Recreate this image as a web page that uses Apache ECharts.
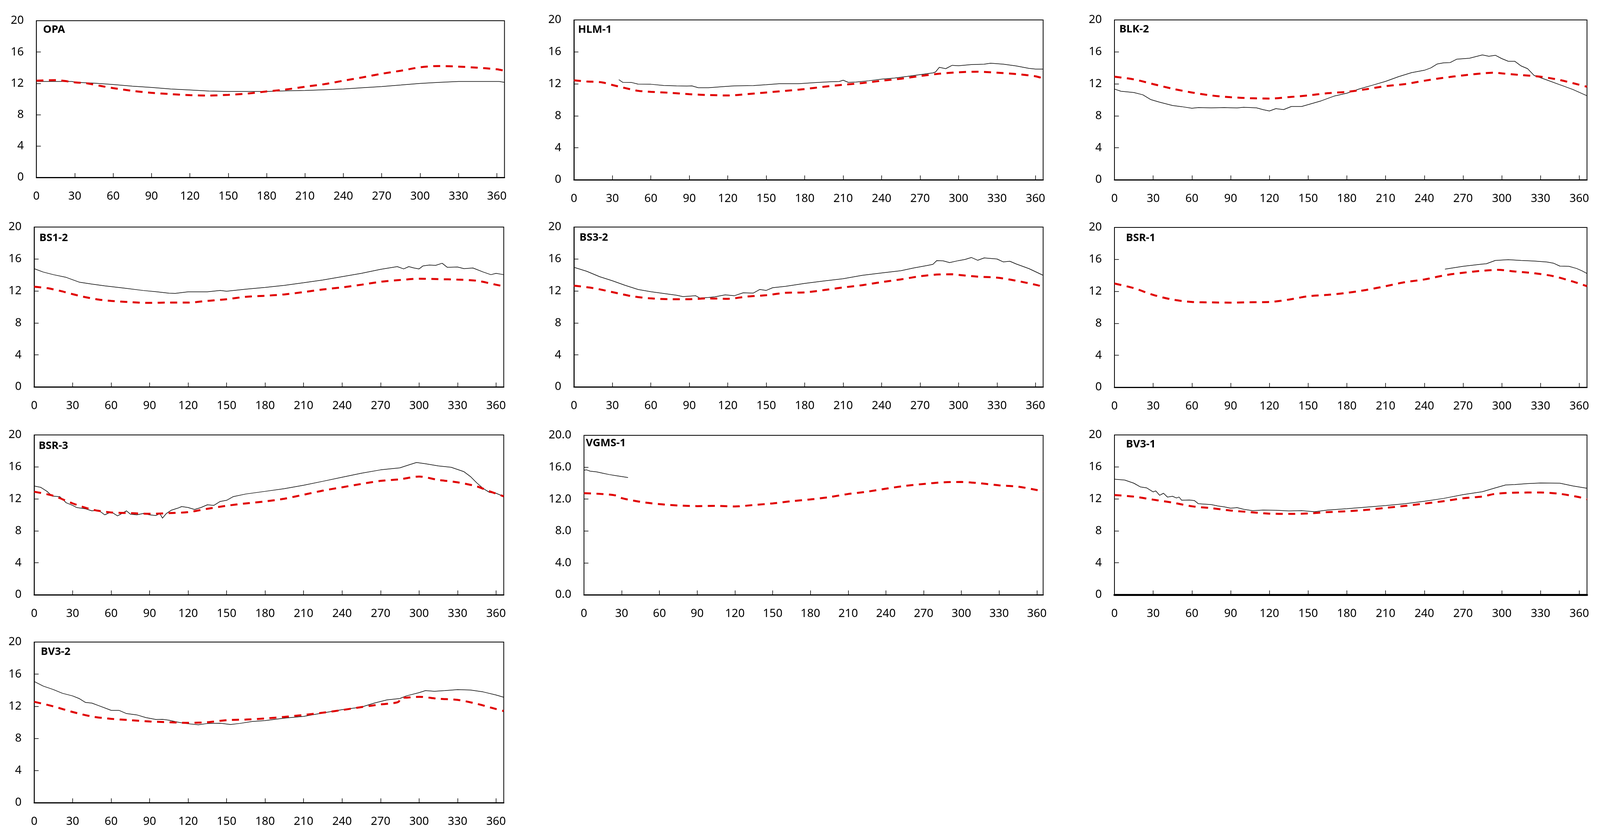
<!DOCTYPE html>
<html><head><meta charset="utf-8">
<script src="https://cdn.jsdelivr.net/npm/echarts@6/dist/echarts.min.js"></script>
<style>html,body{margin:0;padding:0;background:#fff;overflow:hidden}#c{width:100vw;height:100vh}</style>
</head><body><div id="c"></div><script>
// ---- tick labels ----
const xTicks = [0,30,60,90,120,150,180,210,240,270,300,330,360];
const yTicks = [0,4,8,12,16,20];
const panelNames = ['OPA','HLM-1','BLK-2','BS1-2','BS3-2','BSR-1','BSR-3','VGMS-1','BV3-1','BV3-2'];

// ---- observed (black) series: [day, value] ----
const opaObs = [[0,12.24],[28,12.24],[30,12.15],[45,12.03],[60,11.86],[75,11.65],[90,11.48],[105,11.28],[120,11.16],[135,11.02],[150,10.97],[180,10.97],[195,11.05],[210,11.1],[225,11.19],[240,11.28],[255,11.45],[270,11.6],[285,11.79],[300,12.0],[315,12.13],[330,12.24],[362,12.24],[366,12.13]];
const hlmObs = [[35,12.53],[38,12.19],[45,12.17],[50,11.97],[60,11.95],[70,11.8],[80,11.75],[88,11.72],[92,11.75],[97,11.52],[105,11.52],[115,11.64],[125,11.75],[140,11.79],[150,11.89],[160,12.02],[175,12.02],[190,12.17],[200,12.26],[207,12.3],[210,12.46],[214,12.19],[220,12.22],[230,12.39],[240,12.59],[250,12.73],[260,12.93],[270,13.15],[280,13.37],[282,13.47],[285,14.07],[290,13.9],[295,14.32],[300,14.27],[310,14.41],[320,14.46],[325,14.58],[335,14.46],[345,14.24],[355,13.94],[360,13.85],[366,13.85]];
const blkObs = [[0,11.35],[5,11.08],[15,10.92],[22,10.63],[28,10.04],[35,9.71],[45,9.29],[52,9.15],[60,8.95],[65,9.04],[75,9.0],[85,9.04],[95,8.98],[100,9.07],[110,9.0],[115,8.78],[120,8.61],[125,8.9],[131,8.78],[137,9.17],[145,9.17],[150,9.4],[160,9.87],[170,10.46],[180,10.83],[190,11.38],[200,11.84],[210,12.31],[220,12.9],[230,13.4],[240,13.7],[245,13.99],[250,14.49],[255,14.63],[260,14.66],[265,15.08],[275,15.21],[285,15.62],[290,15.45],[295,15.58],[300,15.16],[305,14.83],[310,14.83],[315,14.24],[320,13.9],[325,13.06],[335,12.48],[345,11.89],[355,11.3],[366,10.51]];
const bs1Obs = [[0,14.79],[7,14.37],[15,14.04],[25,13.7],[35,13.11],[45,12.86],[55,12.64],[70,12.36],[85,12.06],[95,11.91],[105,11.72],[110,11.7],[120,11.89],[135,11.89],[145,12.07],[150,11.97],[165,12.22],[180,12.45],[195,12.7],[210,13.03],[225,13.37],[240,13.79],[255,14.21],[270,14.71],[283,15.05],[288,14.76],[292,15.05],[296,14.88],[300,14.76],[303,15.13],[308,15.25],[313,15.21],[318,15.47],[322,14.96],[330,15.0],[335,14.79],[342,14.88],[350,14.37],[356,14.04],[360,14.21],[366,14.04]];
const bs3Obs = [[0,14.96],[10,14.46],[20,13.79],[30,13.28],[40,12.7],[50,12.19],[60,11.91],[70,11.69],[80,11.47],[85,11.3],[95,11.4],[98,11.13],[105,11.18],[110,11.27],[118,11.52],[125,11.4],[132,11.77],[140,11.74],[145,12.19],[150,12.07],[155,12.41],[165,12.58],[180,12.95],[195,13.25],[210,13.53],[225,13.96],[240,14.26],[255,14.54],[265,14.88],[275,15.17],[280,15.33],[283,15.8],[288,15.77],[293,15.55],[300,15.8],[305,15.94],[310,16.19],[315,15.84],[320,16.14],[330,16.0],[335,15.63],[340,15.72],[345,15.38],[355,14.79],[366,13.96]];
const bsr1Obs = [[256,14.78],[270,15.13],[285,15.42],[288,15.45],[295,15.87],[305,15.97],[315,15.87],[325,15.8],[335,15.67],[340,15.53],[345,15.16],[352,15.13],[358,14.86],[362,14.58],[366,14.24]];
const bsr3Obs = [[0,13.61],[5,13.45],[10,12.94],[14,12.35],[20,12.27],[25,11.51],[30,11.18],[33,10.92],[40,10.76],[45,10.5],[50,10.59],[55,10.0],[60,10.37],[65,9.87],[72,10.5],[75,10.08],[80,10.0],[85,10.17],[90,10.0],[95,9.92],[98,10.17],[100,9.58],[103,10.17],[107,10.59],[112,10.84],[115,11.04],[120,10.92],[125,10.67],[130,10.92],[135,11.26],[140,11.18],[145,11.68],[150,11.82],[155,12.27],[165,12.61],[180,12.94],[195,13.28],[210,13.7],[225,14.2],[240,14.71],[255,15.21],[270,15.63],[285,15.88],[292,16.25],[298,16.55],[305,16.39],[315,16.13],[325,15.95],[335,15.4],[340,14.8],[345,14.0],[350,13.3],[355,12.8],[360,12.7],[366,12.3]];
const vgmsObs = [[0,15.62],[2,15.67],[5,15.5],[10,15.42],[15,15.25],[20,15.08],[25,14.95],[30,14.83],[35,14.71]];
const bv31Obs = [[0,14.46],[8,14.35],[15,13.96],[20,13.5],[25,13.37],[30,12.87],[32,13.0],[35,12.45],[38,12.7],[41,12.23],[45,12.32],[48,12.11],[50,12.23],[52,11.83],[58,11.86],[62,11.78],[65,11.39],[75,11.28],[80,11.11],[85,11.0],[90,10.83],[95,10.9],[100,10.7],[107,10.53],[115,10.6],[125,10.57],[135,10.49],[145,10.53],[155,10.39],[165,10.6],[180,10.77],[195,10.97],[210,11.16],[225,11.39],[240,11.7],[255,12.06],[270,12.53],[285,12.9],[295,13.37],[303,13.74],[310,13.79],[320,13.91],[330,13.99],[345,13.96],[355,13.62],[366,13.32]];
const bv32Obs = [[0,15.09],[7,14.52],[15,14.08],[22,13.62],[30,13.29],[35,12.97],[40,12.48],[45,12.4],[50,12.1],[60,11.5],[66,11.5],[72,11.09],[80,10.93],[87,10.6],[95,10.35],[100,10.38],[105,10.27],[112,10.02],[118,9.86],[128,9.7],[135,9.86],[145,9.89],[153,9.73],[160,9.86],[170,10.11],[180,10.22],[195,10.52],[210,10.74],[225,11.17],[240,11.58],[255,11.9],[265,12.4],[275,12.8],[285,12.97],[290,13.29],[300,13.7],[305,13.95],[312,13.87],[320,13.95],[330,14.08],[340,14.03],[350,13.79],[360,13.41],[366,13.13]];

// ---- model (red dashed) series: [day, value] ----
const opaMod = [[0,12.34],[15,12.42],[30,12.13],[40,12.0],[50,11.68],[60,11.4],[75,11.05],[90,10.8],[105,10.63],[120,10.5],[135,10.45],[150,10.54],[165,10.7],[180,10.97],[195,11.22],[210,11.57],[225,11.9],[240,12.34],[255,12.77],[270,13.23],[285,13.62],[300,14.05],[315,14.22],[330,14.14],[345,14.0],[360,13.8],[366,13.62]];
const hlmMod = [[0,12.44],[10,12.3],[20,12.22],[25,12.08],[30,11.86],[40,11.47],[50,11.13],[60,11.0],[75,10.88],[90,10.71],[105,10.6],[120,10.55],[135,10.71],[150,10.92],[165,11.13],[180,11.35],[195,11.64],[210,11.89],[225,12.1],[240,12.39],[255,12.64],[270,12.98],[285,13.27],[300,13.45],[315,13.52],[330,13.4],[345,13.23],[360,12.95],[366,12.68]];
const blkMod = [[0,12.9],[15,12.56],[30,11.97],[45,11.39],[60,10.92],[75,10.55],[90,10.33],[105,10.21],[120,10.16],[135,10.34],[150,10.55],[165,10.83],[180,11.0],[195,11.33],[210,11.72],[225,11.97],[240,12.39],[255,12.76],[270,13.06],[285,13.31],[295,13.4],[300,13.31],[315,13.1],[330,12.9],[345,12.48],[360,11.89],[366,11.64]];
const bs1Mod = [[0,12.53],[10,12.36],[20,12.02],[30,11.6],[40,11.22],[50,10.93],[60,10.76],[75,10.6],[90,10.51],[105,10.55],[120,10.55],[135,10.76],[150,10.97],[165,11.27],[180,11.4],[195,11.57],[210,11.86],[225,12.19],[240,12.45],[255,12.78],[270,13.15],[285,13.37],[300,13.53],[315,13.48],[330,13.42],[345,13.28],[360,12.78],[366,12.58]];
const bs3Mod = [[0,12.66],[15,12.36],[30,11.86],[45,11.35],[60,11.07],[75,10.97],[90,10.97],[105,11.07],[120,11.02],[135,11.3],[150,11.47],[165,11.77],[180,11.82],[195,12.11],[210,12.44],[225,12.73],[240,13.11],[255,13.45],[270,13.84],[285,14.07],[295,14.09],[300,14.01],[315,13.79],[330,13.67],[345,13.28],[360,12.78],[366,12.53]];
const bsr1Mod = [[0,12.98],[15,12.4],[30,11.56],[45,10.97],[60,10.67],[75,10.62],[90,10.59],[105,10.64],[120,10.67],[135,10.97],[150,11.39],[165,11.56],[180,11.81],[195,12.18],[210,12.65],[225,13.15],[240,13.49],[255,13.99],[270,14.33],[285,14.58],[297,14.69],[310,14.49],[325,14.27],[340,13.9],[355,13.23],[366,12.65]];
const bsr3Mod = [[0,12.89],[15,12.39],[30,11.43],[45,10.67],[60,10.3],[75,10.22],[90,10.13],[105,10.22],[120,10.34],[135,10.76],[150,11.14],[165,11.43],[180,11.68],[195,12.02],[210,12.52],[225,13.03],[240,13.45],[255,13.87],[270,14.25],[285,14.45],[300,14.79],[315,14.37],[330,14.07],[345,13.56],[355,12.94],[366,12.32]];
const vgmsMod = [[0,12.75],[15,12.63],[25,12.46],[30,12.13],[40,11.79],[50,11.54],[60,11.37],[75,11.2],[90,11.12],[105,11.15],[120,11.08],[135,11.26],[150,11.46],[165,11.74],[180,11.96],[195,12.25],[210,12.64],[225,12.93],[240,13.31],[255,13.65],[270,13.9],[285,14.1],[300,14.15],[315,13.98],[330,13.73],[345,13.56],[360,13.14],[365,12.93]];
const bv31Mod = [[0,12.48],[15,12.28],[30,11.9],[45,11.53],[60,11.07],[75,10.84],[90,10.54],[105,10.34],[120,10.15],[135,10.12],[150,10.17],[165,10.34],[180,10.45],[195,10.62],[210,10.87],[225,11.12],[240,11.41],[255,11.71],[270,12.08],[285,12.3],[295,12.63],[310,12.77],[330,12.8],[345,12.63],[360,12.21],[366,11.95]];
const bv32Mod = [[0,12.56],[15,11.99],[30,11.29],[45,10.73],[60,10.44],[75,10.27],[90,10.11],[105,10.02],[120,9.94],[135,10.02],[150,10.27],[165,10.35],[180,10.48],[195,10.68],[210,10.92],[225,11.2],[240,11.53],[255,11.9],[270,12.23],[280,12.4],[284,12.56],[286,13.05],[290,13.08],[300,13.18],[315,12.94],[330,12.8],[345,12.31],[360,11.66],[366,11.41]];

const obsSets = [opaObs,hlmObs,blkObs,bs1Obs,bs3Obs,bsr1Obs,bsr3Obs,vgmsObs,bv31Obs,bv32Obs];
const modSets = [opaMod,hlmMod,blkMod,bs1Mod,bs3Mod,bsr1Mod,bsr3Mod,vgmsMod,bv31Mod,bv32Mod];
const xMaxes = [366,366,366,366,366,366,366,365,366,366];

// ---- layout (pixels, in a 4307 x 2147 design space, scaled to the viewport) ----
const layout = [
  {l:98,  t:53,   w:1260, h:401, tl:116,  tt:70},
  {l:1545,t:51,   w:1263, h:409, tl:1556, tt:70},
  {l:3000,t:51,   w:1272, h:409, tl:3013, tt:69},
  {l:92,  t:581,  w:1264, h:409, tl:106,  tt:603},
  {l:1545,t:581,  w:1263, h:409, tl:1560, tt:602},
  {l:3000,t:582,  w:1272, h:409, tl:3031, tt:603},
  {l:92,  t:1113, w:1264, h:409, tl:104,  tt:1135},
  {l:1572,t:1114, w:1236, h:408, tl:1577, tt:1128},
  {l:3000,t:1113, w:1272, h:409, tl:3031, tt:1131},
  {l:92,  t:1643, w:1264, h:411, tl:110,  tt:1662}
];

const el = document.getElementById('c');
const W = el.clientWidth || window.innerWidth, H = el.clientHeight || window.innerHeight;
const sx = W / 4307, sy = H / 2147, sf = (sx + sy) / 2;
const FONT = 'Noto Sans';
const option = {animation:false, backgroundColor:'#fff', grid:[], xAxis:[], yAxis:[], series:[], title:[]};
panelNames.forEach((name,i)=>{
  const L = layout[i];
  option.grid.push({left:L.l*sx, top:L.t*sy, width:L.w*sx, height:L.h*sy, show:true, borderColor:'#000', borderWidth:2, backgroundColor:'transparent'});
  option.xAxis.push({gridIndex:i, type:'value', min:xTicks[0], max:xMaxes[i], interval:xTicks[1]-xTicks[0],
    axisLine:{show:true, onZero:false, lineStyle:{color:'#000', width: i===8?5:3}},
    axisTick:{show:true, inside:true, length:11*sy, lineStyle:{color:'#000', width:1.5}},
    axisLabel:{fontSize:30*sf, color:'#000', margin:34*sy, fontFamily:FONT, showMaxLabel:false},
    splitLine:{show:false}});
  option.yAxis.push({gridIndex:i, type:'value', min:yTicks[0], max:yTicks[yTicks.length-1], interval:yTicks[1]-yTicks[0],
    axisLine:{show:true, lineStyle:{color:'#000', width:2}},
    axisTick:{show:true, inside:true, length:12*sx, lineStyle:{color:'#000', width:1.5}},
    axisLabel:{fontSize:30*sf, color:'#000', margin:34*sx, fontFamily:FONT,
      formatter: v => name==='VGMS-1' ? v.toFixed(1) : String(v)},
    splitLine:{show:false}});
  option.series.push({type:'line', xAxisIndex:i, yAxisIndex:i, data:obsSets[i], showSymbol:false, symbol:'none',
    lineStyle:{color:'#000', width:1.5}, z:2});
  option.series.push({type:'line', xAxisIndex:i, yAxisIndex:i, data:modSets[i], showSymbol:false, symbol:'none', smooth:0.3,
    lineStyle:{color:'#e00000', width:5, type:[18,14]}, z:3});
  option.title.push({text:name, left:L.tl*sx, top:(L.tt-7)*sy, padding:0,
    textStyle:{fontSize:28*sf, fontWeight:'bold', color:'#000', fontFamily:FONT}});
});
const chart = echarts.init(el, null, {renderer:'canvas', width:W, height:H});
chart.setOption(option);
</script></body></html>
